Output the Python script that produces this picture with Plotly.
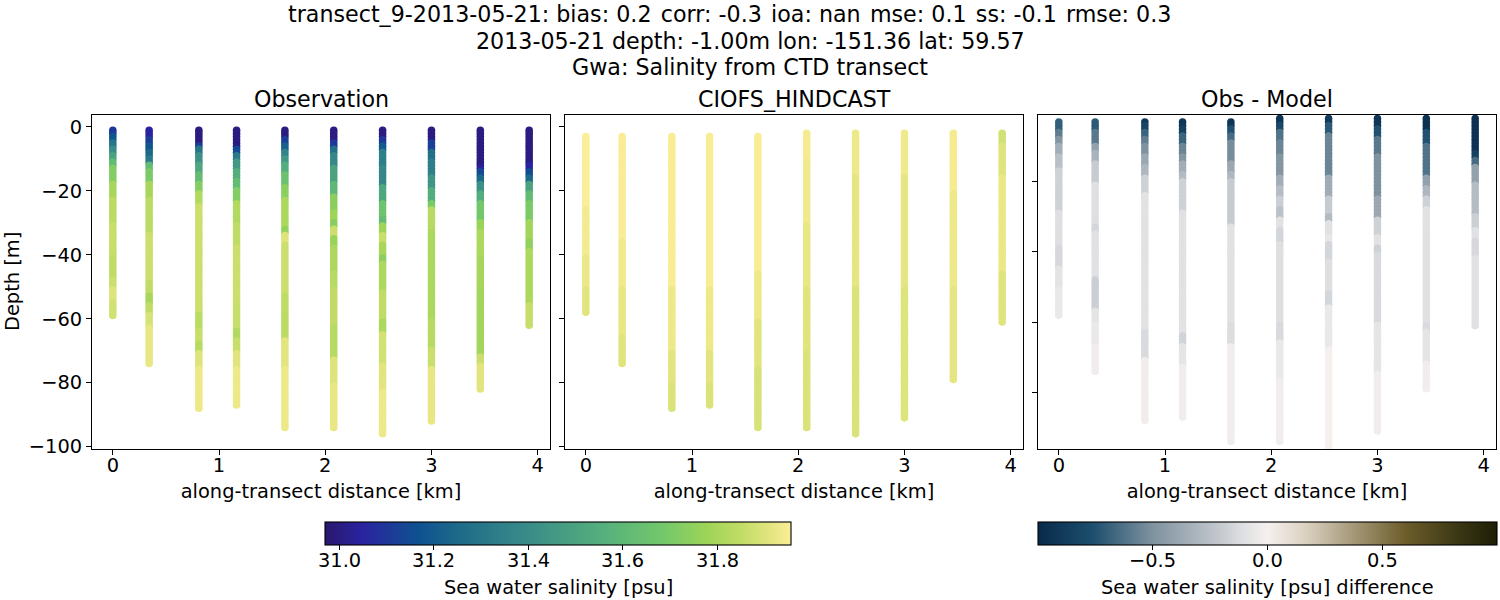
import plotly.graph_objects as go

W, H = 1500, 600
FONT = "DejaVu Sans"

CAST_KM = [0.0, 0.342, 0.81, 1.165, 1.62, 2.08, 2.54, 3.0, 3.46, 3.92]
OBS_TOP = [1, 1, 1, 1, 1, 1, 1, 1, 1, 1]
MOD_TOP = [3, 3, 3, 3, 3, 2, 2, 2, 2, 2]

# Each band: (deepest depth in metres the reading applies to)
OBS = [
    [(2, 31.1), (4, 31.18), (6, 31.3), (8, 31.4), (10, 31.5), (12, 31.62), (17, 31.72), (22, 31.8), (30, 31.84), (40, 31.86), (47, 31.85), (50, 31.87), (54, 31.9), (59, 31.88)],
    [(3, 31.05), (5, 31.12), (7, 31.18), (9, 31.25), (11, 31.32), (13, 31.62), (17, 31.7), (22, 31.8), (33, 31.84), (48, 31.87), (52, 31.85), (55, 31.8), (58, 31.85), (62, 31.89), (74, 31.92)],
    [(5, 31.0), (6, 31.12), (8, 31.3), (11, 31.42), (14, 31.52), (17, 31.62), (20, 31.72), (24, 31.82), (40, 31.87), (58, 31.87), (63, 31.84), (67, 31.86), (70, 31.83), (75, 31.9), (88, 31.93)],
    [(6, 31.0), (8, 31.15), (10, 31.32), (13, 31.45), (16, 31.55), (19, 31.62), (23, 31.72), (30, 31.82), (37, 31.85), (55, 31.87), (63, 31.86), (66, 31.82), (70, 31.86), (75, 31.91), (87, 31.93)],
    [(3, 31.0), (5, 31.12), (7, 31.22), (9, 31.36), (11, 31.45), (14, 31.55), (18, 31.65), (22, 31.74), (31, 31.81), (33, 31.76), (36, 31.9), (52, 31.87), (58, 31.85), (66, 31.84), (75, 31.91), (94, 31.93)],
    [(4, 31.0), (6, 31.1), (8, 31.28), (12, 31.38), (17, 31.5), (21, 31.6), (26, 31.74), (29, 31.78), (31, 31.73), (34, 31.87), (37, 31.77), (45, 31.81), (50, 31.83), (62, 31.85), (72, 31.83), (80, 31.9), (94, 31.92)],
    [(3, 31.0), (5, 31.1), (7, 31.2), (12, 31.34), (18, 31.38), (23, 31.52), (28, 31.66), (30, 31.62), (33, 31.78), (36, 31.86), (40, 31.8), (42, 31.74), (51, 31.81), (60, 31.85), (64, 31.81), (74, 31.88), (82, 31.91), (96, 31.93)],
    [(4, 31.0), (7, 31.12), (10, 31.28), (15, 31.34), (19, 31.44), (23, 31.55), (25, 31.7), (32, 31.83), (60, 31.81), (69, 31.83), (75, 31.87), (92, 31.92)],
    [(12, 31.0), (13, 31.05), (15, 31.15), (17, 31.25), (20, 31.42), (23, 31.55), (29, 31.68), (32, 31.77), (40, 31.81), (50, 31.8), (71, 31.79), (74, 31.87), (82, 31.91)],
    [(11, 31.0), (13, 31.05), (15, 31.15), (17, 31.25), (20, 31.5), (23, 31.62), (29, 31.7), (35, 31.79), (38, 31.75), (48, 31.81), (55, 31.81), (62, 31.86)],
]
MODEL = [
    [(25, 31.955), (40, 31.94), (50, 31.925), (58, 31.91)],
    [(35, 31.95), (50, 31.935), (65, 31.92), (74, 31.905)],
    [(50, 31.95), (70, 31.93), (80, 31.91), (88, 31.895)],
    [(50, 31.95), (70, 31.93), (80, 31.91), (87, 31.895)],
    [(45, 31.95), (60, 31.93), (75, 31.91), (94, 31.89)],
    [(10, 31.945), (30, 31.935), (50, 31.92), (70, 31.905), (94, 31.895)],
    [(15, 31.93), (50, 31.915), (96, 31.895)],
    [(15, 31.935), (50, 31.915), (91, 31.9)],
    [(20, 31.945), (50, 31.93), (79, 31.915)],
    [(5, 31.88), (15, 31.905), (45, 31.925), (61, 31.905)],
]
DIFF = [
    [(5, -0.7), (7, -0.58), (9, -0.48), (12, -0.35), (16, -0.25), (28, -0.17), (38, -0.11), (44, -0.14), (50, -0.08), (58, -0.05)],
    [(5, -0.72), (9, -0.6), (11, -0.42), (14, -0.32), (20, -0.2), (32, -0.11), (34, -0.15), (47, -0.1), (56, -0.18), (60, -0.08), (66, -0.05), (74, -0.02)],
    [(3, -0.9), (5, -0.82), (7, -0.68), (9, -0.58), (12, -0.5), (15, -0.38), (18, -0.3), (23, -0.17), (62, -0.09), (70, -0.13), (88, -0.02)],
    [(4, -0.92), (6, -0.85), (9, -0.68), (12, -0.55), (14, -0.48), (17, -0.35), (19, -0.28), (28, -0.17), (50, -0.1), (63, -0.09), (66, -0.16), (72, -0.07), (87, -0.02)],
    [(4, -0.92), (6, -0.75), (8, -0.65), (14, -0.52), (17, -0.38), (19, -0.3), (32, -0.2), (60, -0.09), (66, -0.12), (94, -0.02)],
    [(3, -0.92), (5, -0.8), (8, -0.62), (12, -0.55), (18, -0.48), (21, -0.35), (24, -0.27), (27, -0.18), (30, -0.24), (33, -0.09), (37, -0.15), (60, -0.11), (65, -0.13), (76, -0.05), (94, -0.02)],
    [(3, -0.9), (6, -0.72), (18, -0.55), (24, -0.36), (29, -0.2), (31, -0.28), (35, -0.1), (37, -0.06), (42, -0.15), (51, -0.11), (55, -0.15), (67, -0.05), (96, 0.0)],
    [(4, -0.92), (7, -0.75), (12, -0.6), (24, -0.5), (30, -0.38), (35, -0.17), (38, -0.09), (40, -0.17), (60, -0.13), (74, -0.07), (91, -0.02)],
    [(5, -0.95), (9, -0.75), (18, -0.62), (21, -0.42), (24, -0.3), (27, -0.17), (33, -0.09), (60, -0.1), (62, -0.13), (71, -0.08), (79, -0.02)],
    [(11, -0.95), (13, -0.85), (15, -0.65), (20, -0.42), (29, -0.27), (33, -0.18), (36, -0.1), (41, -0.14), (61, -0.1)],
]

HALINE = [
    [0.0, "#2a186c"], [0.08, "#2a23a0"], [0.2, "#0f5190"], [0.3, "#1f6e88"],
    [0.4, "#34848a"], [0.5, "#459a84"], [0.6, "#56b07c"], [0.73, "#75c96a"],
    [0.82, "#9dd458"], [0.89, "#c0dc65"], [0.96, "#e6e682"], [1.0, "#fbee98"],
]
DIFFMAP = [
    [0.0, "#082a4a"], [0.12, "#1d4f6e"], [0.25, "#7f929f"], [0.38, "#bcc2c9"],
    [0.45, "#e0e1e3"], [0.5, "#f5f0ee"], [0.58, "#ddd3c3"], [0.68, "#a89c7d"],
    [0.8, "#6d5d2b"], [0.9, "#413c17"], [1.0, "#1c1e06"],
]
SAL_RANGE = (30.97, 31.956)
DIFF_RANGE = (-0.998, 0.998)

TITLE_LINES = [
    ("transect_9-2013-05-21: bias: 0.2 \u200acorr: -0.3 \u200aioa: nan \u200amse: 0.1 \u200ass: -0.1 \u200armse: 0.3", 729, 14),
    ("2013-05-21 depth: -1.00m lon: -151.36 lat: 59.57", 750, 41),
    ("Gwa: Salinity from CTD transect", 750, 67),
]
PANEL_TITLES = ["Observation", "CIOFS_HINDCAST", "Obs - Model"]
X_LABEL = "along-transect distance [km]"
Y_LABEL = "Depth [m]"
X_TICKS = [0, 1, 2, 3, 4]
Y_TICKS = [0, -20, -40, -60, -80, -100]
CB1_TITLE = "Sea water salinity [psu]"
CB2_TITLE = "Sea water salinity [psu] difference"
CB1_TICKS = [31.0, 31.2, 31.4, 31.6, 31.8]
CB2_TICKS = [-0.5, 0.0, 0.5]

PANELS_PX = [(92, 550), (565, 1023), (1038, 1496)]
TOP, BOT = 115, 449
Y_RANGES = [(-100.75, 3.75), (-100.75, 3.75), (-96.15, -1.0)]
X_RANGE = (-0.196, 4.116)


def expand(bands, top):
    depths, vals = [], []
    d = top
    for end, v in bands:
        while d <= end:
            depths.append(-d)
            vals.append(v)
            d += 1
    return depths, vals


def gather(casts, tops):
    xs, ys, cs = [], [], []
    for km, bands, top in zip(CAST_KM, casts, tops):
        d, v = expand(bands, top)
        xs += [km] * len(d)
        ys += d
        cs += v
    return xs, ys, cs


def label(fig, text, px, py, font, angle=0):
    fig.add_annotation(text=text, x=px / W, y=1 - py / H, xref="paper", yref="paper", showarrow=False,
                       xanchor="center", yanchor="middle", textangle=angle, font=font)


fig = go.Figure()
datasets = [
    (OBS, OBS_TOP, HALINE, SAL_RANGE),
    (MODEL, MOD_TOP, HALINE, SAL_RANGE),
    (DIFF, MOD_TOP, DIFFMAP, DIFF_RANGE),
]
tickfont = dict(family=FONT, size=19.4, color="black")
titlefont = dict(family=FONT, size=22.2, color="black")
for i, (casts, tops, cmap, rng) in enumerate(datasets):
    n = "" if i == 0 else str(i + 1)
    xs, ys, cs = gather(casts, tops)
    marker = dict(size=7.6, color=cs, colorscale=cmap, cmin=rng[0], cmax=rng[1], line=dict(width=0), showscale=False)
    if i in (0, 2):
        title = CB1_TITLE if i == 0 else CB2_TITLE
        ticks = CB1_TICKS if i == 0 else CB2_TICKS
        left, right = (325, 791) if i == 0 else (1038, 1497)
        marker.update(
            showscale=True,
            colorbar=dict(
                orientation="h", lenmode="pixels", len=right - left, thickness=23,
                x=(left + right) / 2 / W, xanchor="center", y=1 - 522 / H, yanchor="top",
                xpad=0, ypad=0, outlinecolor="black", outlinewidth=1.1,
                ticks="outside", ticklen=5, tickwidth=1.1, tickcolor="black",
                tickvals=ticks, showticklabels=False,
            ),
        )
        for t in ticks:
            tx = left + (t - rng[0]) / (rng[1] - rng[0]) * (right - left)
            label(fig, f"{t:.1f}".replace("-", "\u2212"), tx, 560, tickfont)
        label(fig, title, (left + right) / 2, 587, tickfont)
    fig.add_trace(go.Scatter(x=xs, y=ys, mode="markers", marker=marker, xaxis="x" + n, yaxis="y" + n, showlegend=False, hoverinfo="skip"))
    l, r = PANELS_PX[i]
    axis = dict(showgrid=False, zeroline=False, showline=True, mirror=True, linecolor="black", linewidth=1.1,
                ticks="outside", ticklen=5, tickwidth=1.1, tickcolor="black", tickfont=tickfont)
    fig.update_layout(**{
        "xaxis" + n: dict(axis, domain=[l / W, r / W], range=list(X_RANGE), tickvals=X_TICKS, anchor="y" + n,
                          ticklabelstandoff=-6, title=dict(text=X_LABEL, font=tickfont, standoff=8)),
        "yaxis" + n: dict(axis, domain=[1 - BOT / H, 1 - TOP / H], range=list(Y_RANGES[i]), tickvals=Y_TICKS,
                          ticktext=[str(t).replace("-", "\u2212") for t in Y_TICKS],
                          showticklabels=(i == 0), anchor="x" + n),
    })
    label(fig, PANEL_TITLES[i], (l + r) / 2, 99, titlefont)

for text, px, py in TITLE_LINES:
    label(fig, text, px, py, titlefont)
label(fig, Y_LABEL, 12, 282, tickfont, angle=-90)

fig.update_layout(width=W, height=H, margin=dict(l=0, r=0, t=0, b=0, autoexpand=False),
                  paper_bgcolor="white", plot_bgcolor="white")
fig.write_html("out.html", config={"displayModeBar": False},
               post_script="document.body.style.margin='0';document.documentElement.style.overflow='hidden';")
